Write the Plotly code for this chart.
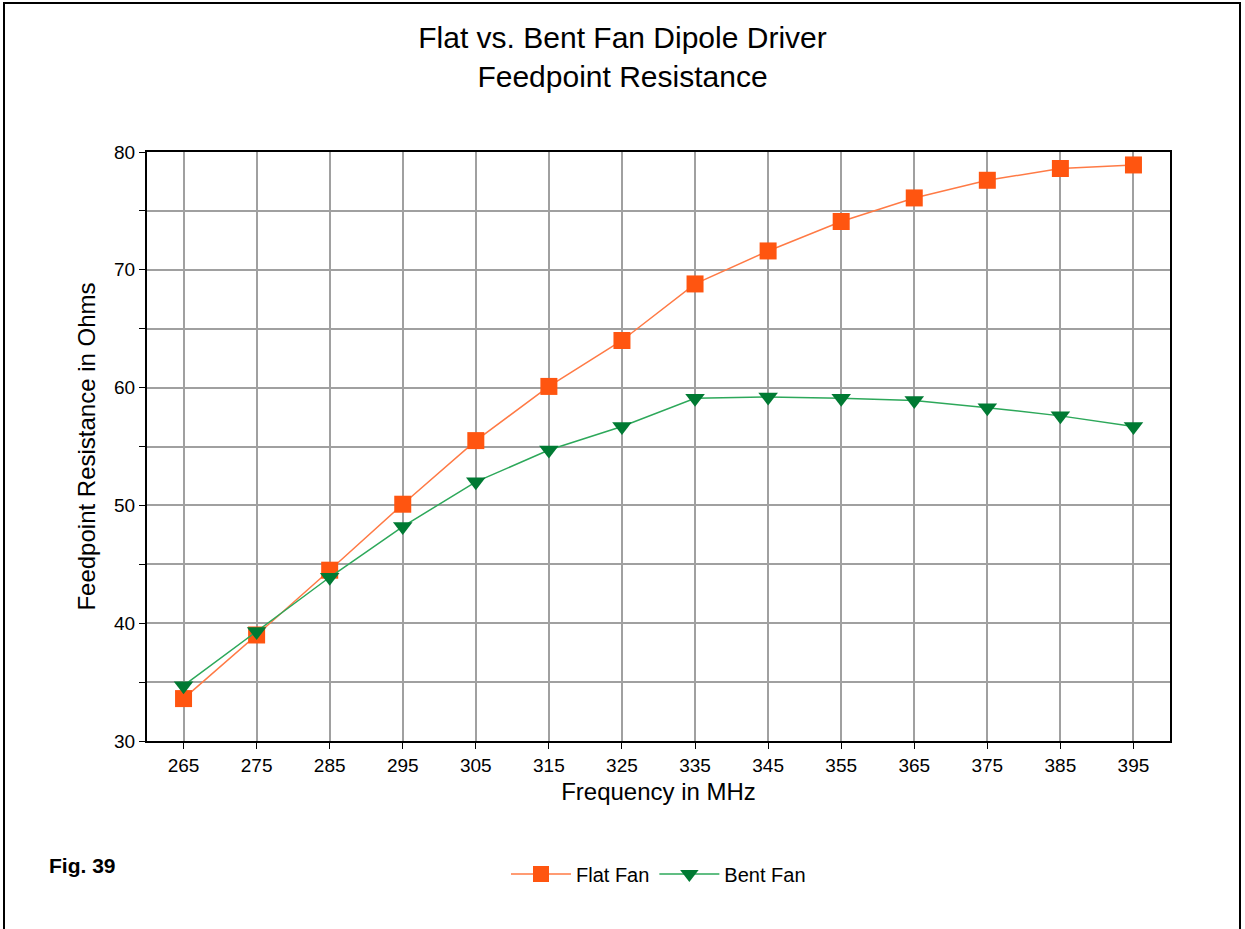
import plotly.graph_objects as go

# frequencies (MHz) and feedpoint resistance (ohms)
freq = ['265', '275', '285', '295', '305', '315', '325', '335', '345', '355', '365', '375', '385', '395']
flat_fan = [33.6, 39.0, 44.5, 50.1, 55.5, 60.1, 64.0, 68.8, 71.6, 74.1, 76.1, 77.6, 78.6, 78.9]
bent_fan = [34.7, 39.3, 43.9, 48.2, 52.0, 54.7, 56.7, 59.1, 59.2, 59.1, 58.9, 58.3, 57.6, 56.7]

W, H = 1245, 929
L, R, T, B = 147, 1170, 152, 741

fig = go.Figure()
fig.add_trace(go.Scatter(x=freq, y=flat_fan, name='Flat Fan', mode='lines+markers',
                         line=dict(color='#FF7A45', width=1.5),
                         marker=dict(symbol='square', size=17, color='#FF5510')))
fig.add_trace(go.Scatter(x=freq, y=bent_fan, name='Bent Fan', mode='lines+markers',
                         line=dict(color='#2DA85A', width=1.5),
                         marker=dict(symbol='triangle-down', size=17, color='#007A33')))

font = 'Liberation Sans, Arial, sans-serif'
grid = '#A0A0A0'

fig.update_layout(
    width=W, height=H,
    margin=dict(l=L, r=W - R, t=T, b=H - B),
    paper_bgcolor='white', plot_bgcolor='white',
    font=dict(family=font, color='black', size=19),
    title=dict(text='Flat vs. Bent Fan Dipole Driver<br>Feedpoint Resistance',
               x=0.5, xanchor='center', y=1 - 48 / H, yanchor='middle',
               font=dict(size=30, color='black')),
    showlegend=True,
    legend=dict(orientation='h', x=0.5, xanchor='center', y=(B - 874) / (B - T), yanchor='middle',
                font=dict(size=20), bgcolor='rgba(0,0,0,0)', itemwidth=60),
    xaxis=dict(type='category', range=[-0.5, 13.5], showgrid=True, gridcolor=grid, gridwidth=2,
               showline=True, linecolor='black', linewidth=2, mirror=True,
               ticks='outside', ticklen=6, tickcolor='black',
               tickfont=dict(size=19),
               title=dict(text='Frequency in MHz', font=dict(size=24), standoff=8)),
    yaxis=dict(range=[30, 80], dtick=10, showgrid=True, gridcolor=grid, gridwidth=2,
               minor=dict(dtick=5, showgrid=True, gridcolor=grid, gridwidth=2, ticks='outside',
                          ticklen=6, tickcolor='black'),
               showline=True, linecolor='black', linewidth=2, mirror=True,
               ticks='outside', ticklen=6, tickcolor='black', zeroline=False,
               tickfont=dict(size=19),
               title=dict(text='Feedpoint Resistance in Ohms', font=dict(size=24), standoff=12)),
)

fig.add_annotation(text='<b>Fig. 39</b>', xref='paper', yref='paper',
                   x=(47 - L) / (R - L), xanchor='left', y=(B - 865) / (B - T), yanchor='middle',
                   showarrow=False, font=dict(size=21, color='black'))

# outer frame
fig.add_shape(type='rect', xref='paper', yref='paper',
              x0=(4 - L) / (R - L), x1=(1240 - L) / (R - L),
              y0=(B - 940) / (B - T), y1=(B - 3) / (B - T),
              line=dict(color='black', width=2), fillcolor='rgba(0,0,0,0)')

fig.write_html("out.html", config={'displayModeBar': False},
               post_script="document.body.style.margin='0';")
